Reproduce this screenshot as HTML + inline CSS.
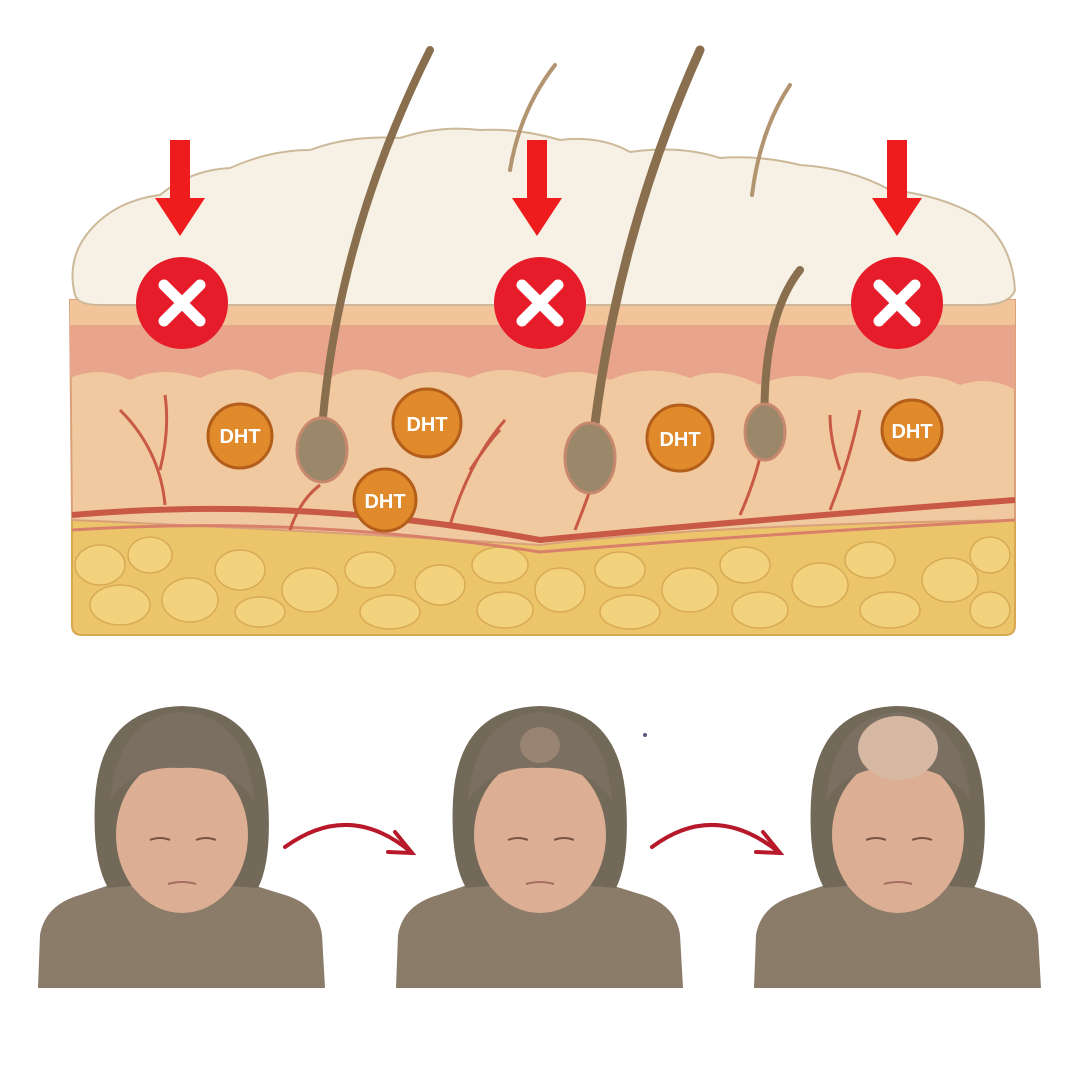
<!DOCTYPE html>
<html><head><style>html,body{margin:0;padding:0;background:#fff;width:1080px;height:1080px;overflow:hidden}</style></head>
<body>
<svg width="1080" height="1080" viewBox="0 0 1080 1080" xmlns="http://www.w3.org/2000/svg" font-family="Liberation Sans, sans-serif">
<defs>
<g id="woman">
  <path d="M38 988 L40 935 Q45 905 80 895 L130 878 L230 878 L285 895 Q318 905 322 935 L325 988 Z" fill="#8b7b69"/>
  <path d="M138 860 L226 860 L232 885 Q182 930 130 885 Z" fill="#d6a88c"/>
  <path d="M182 706 Q100 708 95 800 Q92 860 108 888 L140 885 L140 800 L224 800 L224 885 L258 888 Q272 860 268 800 Q262 708 182 706 Z" fill="#736959"/>
  <ellipse cx="182" cy="835" rx="66" ry="78" fill="#dcae93"/>
  <path d="M182 712 Q118 716 110 800 Q135 765 180 768 Q228 765 254 800 Q247 716 182 712 Z" fill="#7a6f60"/>
  <path d="M150 840 Q160 836 170 840 M196 840 Q206 836 216 840" stroke="#7a5443" stroke-width="2" fill="none"/>
  <path d="M168 884 Q182 880 196 884" stroke="#a56e60" stroke-width="2" fill="none"/>
</g>
</defs>

<path d="M72 520 L1015 515 L1015 625 Q1015 635 1005 635 L82 635 Q72 635 72 625 Z" fill="#ecc56a" stroke="#d9a651" stroke-width="2"/>
<g fill="#f2d27c" stroke="#d9aa55" stroke-width="1.5">
<ellipse cx="100" cy="565" rx="25" ry="20"/><ellipse cx="150" cy="555" rx="22" ry="18"/><ellipse cx="120" cy="605" rx="30" ry="20"/><ellipse cx="190" cy="600" rx="28" ry="22"/><ellipse cx="240" cy="570" rx="25" ry="20"/><ellipse cx="260" cy="612" rx="25" ry="15"/><ellipse cx="310" cy="590" rx="28" ry="22"/><ellipse cx="370" cy="570" rx="25" ry="18"/><ellipse cx="390" cy="612" rx="30" ry="17"/><ellipse cx="440" cy="585" rx="25" ry="20"/><ellipse cx="500" cy="565" rx="28" ry="18"/><ellipse cx="505" cy="610" rx="28" ry="18"/><ellipse cx="560" cy="590" rx="25" ry="22"/><ellipse cx="620" cy="570" rx="25" ry="18"/><ellipse cx="630" cy="612" rx="30" ry="17"/><ellipse cx="690" cy="590" rx="28" ry="22"/><ellipse cx="745" cy="565" rx="25" ry="18"/><ellipse cx="760" cy="610" rx="28" ry="18"/><ellipse cx="820" cy="585" rx="28" ry="22"/><ellipse cx="870" cy="560" rx="25" ry="18"/><ellipse cx="890" cy="610" rx="30" ry="18"/><ellipse cx="950" cy="580" rx="28" ry="22"/><ellipse cx="990" cy="555" rx="20" ry="18"/><ellipse cx="990" cy="610" rx="20" ry="18"/>
</g>
<path d="M70 300 L1015 300 L1015 520 Q700 525 540 545 Q300 530 72 520 Z" fill="#f1c9a0" stroke="#d9a07a" stroke-width="2"/>
<path d="M70 310 L1015 310 L1015 390 Q990 375 960 385 Q930 370 900 380 Q860 365 830 380 Q790 370 760 385 Q720 365 690 378 Q650 362 610 380 Q580 365 545 378 Q500 362 470 378 Q430 365 400 380 Q360 360 330 378 Q300 365 270 380 Q240 360 200 378 Q160 365 130 380 Q100 365 70 378 Z" fill="#e8a58b"/>
<path d="M70 300 L1015 300 L1015 325 L70 325 Z" fill="#f2c49a"/>
<path d="M72 515 Q300 495 540 540 Q750 520 1015 500" stroke="#c85a45" stroke-width="6" fill="none"/>
<path d="M72 530 Q300 515 540 552 Q750 535 1015 520" stroke="#d9806a" stroke-width="3" fill="none"/>
<g stroke="#c85a45" stroke-width="3" fill="none">
<path d="M165 505 Q160 450 120 410 M160 470 Q170 430 165 395"/>
<path d="M450 525 Q470 460 505 420 M470 470 Q490 440 500 430"/>
<path d="M740 515 Q760 470 765 430"/>
<path d="M830 510 Q850 460 860 410 M840 470 Q830 440 830 415"/>
<path d="M290 530 Q300 500 320 485 M575 530 Q585 505 590 490"/>
</g>
<path d="M75 295 Q65 255 95 225 Q120 200 160 195 Q190 170 230 168 Q270 150 310 150 Q350 135 400 138 Q440 125 480 130 Q520 128 560 140 Q600 135 630 152 Q680 145 720 158 Q760 155 800 165 Q850 168 890 190 Q940 195 975 215 Q1012 240 1015 290 Q1010 305 980 305 L100 305 Q78 305 75 295 Z" fill="#f6f1e4" stroke="#cdb99a" stroke-width="2"/>
<g fill="none" stroke="#8a6f4e" stroke-width="8" stroke-linecap="round">
<path d="M320 460 Q330 250 430 50"/>
<path d="M590 470 Q610 250 700 50" stroke-width="9"/>
<path d="M765 440 Q760 320 800 270"/>
</g>
<g fill="none" stroke="#b39471" stroke-width="4" stroke-linecap="round">
<path d="M510 170 Q520 110 555 65"/>
<path d="M752 195 Q760 130 790 85"/>
</g>
<g fill="#9b876a" stroke="#c7896e" stroke-width="3">
<ellipse cx="322" cy="450" rx="25" ry="32"/>
<ellipse cx="590" cy="458" rx="25" ry="35"/>
<ellipse cx="765" cy="432" rx="20" ry="28"/>
</g>
<g fill="#e08a2c" stroke="#b35e1a" stroke-width="3">
<circle cx="240" cy="436" r="32"/><circle cx="427" cy="423" r="34"/><circle cx="385" cy="500" r="31"/><circle cx="680" cy="438" r="33"/><circle cx="912" cy="430" r="30"/>
</g>
<g fill="#fff" font-weight="bold" font-size="20" text-anchor="middle">
<text x="240" y="443">DHT</text><text x="427" y="431">DHT</text><text x="385" y="508">DHT</text><text x="680" y="446">DHT</text><text x="912" y="438">DHT</text>
</g>
<g fill="#ee1c1c">
<path d="M170 140 H190 V198 H205 L180 236 L155 198 H170 Z"/>
<path d="M527 140 H547 V198 H562 L537 236 L512 198 H527 Z"/>
<path d="M887 140 H907 V198 H922 L897 236 L872 198 H887 Z"/>
<circle cx="182" cy="303" r="46" fill="#e61c2a"/><circle cx="540" cy="303" r="46" fill="#e61c2a"/><circle cx="897" cy="303" r="46" fill="#e61c2a"/>
</g>
<g stroke="#fff" stroke-width="11" stroke-linecap="round">
<path d="M164 285 L200 321 M200 285 L164 321"/>
<path d="M522 285 L558 321 M558 285 L522 321"/>
<path d="M879 285 L915 321 M915 285 L879 321"/>
</g>

<use href="#woman"/>
<use href="#woman" transform="translate(358,0)"/>
<use href="#woman" transform="translate(716,0)"/>
<ellipse cx="540" cy="745" rx="20" ry="18" fill="#b89a86" opacity="0.5"/>
<ellipse cx="898" cy="748" rx="40" ry="32" fill="#d7b8a3"/>
<circle cx="645" cy="735" r="2" fill="#5a5a80"/>
<g stroke="#b8192a" stroke-width="4" fill="none" stroke-linecap="round">
<path d="M285 847 Q350 800 412 853"/><path d="M395 832 L412 853 L388 852"/>
<path d="M652 847 Q715 800 780 853"/><path d="M763 832 L780 853 L756 852"/>
</g>
</svg>
</body></html>
